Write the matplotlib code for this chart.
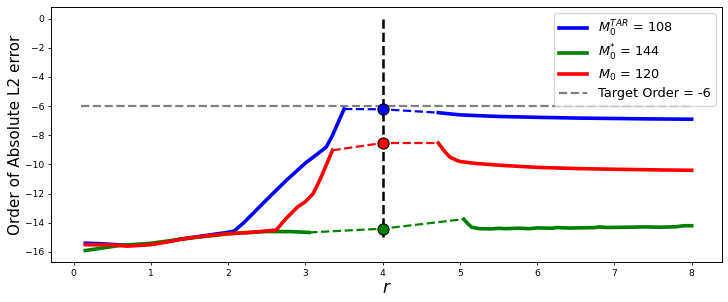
import matplotlib
matplotlib.use("Agg")
import matplotlib.pyplot as plt

# Blue: M0^TAR = 108
blue_x1 = [0.15, 0.3, 0.5, 0.7, 1.0, 1.2, 1.4, 1.6, 1.8, 2.0, 2.08, 2.2, 2.5, 2.75, 3.0, 3.15, 3.27, 3.35, 3.5]
blue_y1 = [-15.4, -15.42, -15.48, -15.55, -15.45, -15.3, -15.1, -14.95, -14.8, -14.65, -14.55, -14.0, -12.4, -11.1, -9.9, -9.3, -8.8, -8.0, -6.2]
blue_xd = [3.5, 4.0, 4.72]
blue_yd = [-6.2, -6.22, -6.45]
blue_x2 = [4.72, 4.9, 5.0, 5.25, 5.5, 6.0, 6.5, 7.0, 7.5, 8.0]
blue_y2 = [-6.45, -6.55, -6.6, -6.66, -6.71, -6.77, -6.82, -6.85, -6.88, -6.9]

# Red: M0 = 120
red_x1 = [0.15, 0.5, 0.7, 1.0, 1.2, 1.4, 1.6, 1.8, 2.0, 2.3, 2.62, 2.75, 2.9, 3.0, 3.1, 3.2, 3.35]
red_y1 = [-15.5, -15.52, -15.6, -15.5, -15.32, -15.12, -14.97, -14.85, -14.75, -14.65, -14.5, -13.7, -12.9, -12.55, -12.0, -10.9, -9.03]
red_xd = [3.35, 4.0, 4.72]
red_yd = [-9.03, -8.53, -8.53]
red_x2 = [4.72, 4.8, 4.87, 4.95, 5.0, 5.2, 5.5, 6.0, 6.5, 7.0, 7.5, 8.0]
red_y2 = [-8.53, -9.1, -9.5, -9.7, -9.8, -9.93, -10.05, -10.2, -10.28, -10.33, -10.37, -10.4]

# Green: M0* = 144
green_x1 = [0.15, 0.6, 1.0, 1.5, 2.0, 2.5, 2.8, 3.05]
green_y1 = [-15.9, -15.55, -15.4, -15.05, -14.75, -14.6, -14.6, -14.66]
green_xd = [3.05, 4.0, 5.05]
green_yd = [-14.66, -14.4, -13.75]
green_x2 = [5.05, 5.1, 5.15, 5.25, 5.4, 5.5, 5.6, 5.75, 5.9, 6.0, 6.2, 6.25, 6.4, 6.6, 6.75, 6.8, 6.9, 7.2, 7.4, 7.6, 7.8, 7.9, 8.0]
green_y2 = [-13.75, -14.05, -14.3, -14.4, -14.42, -14.38, -14.4, -14.37, -14.4, -14.35, -14.37, -14.32, -14.36, -14.34, -14.33, -14.28, -14.32, -14.3, -14.28, -14.3, -14.27, -14.2, -14.2]

target_x = [0.1, 8.0]
target_y = [-6, -6]
r_star = 4.0
vline_y = [0, -15]
marker_y = [-6.22, -8.53, -14.4]
labels = [r'$M_0^{TAR}$ = 108', r'$M_0^{*}$ = 144', r'$M_0$ = 120', 'Target Order = -6']

fig = plt.figure(figsize=(7.28, 3.02), dpi=100)
ax = fig.add_axes([0.070, 0.132, 0.922, 0.845])
lw = 2.6
l1, = ax.plot(blue_x1, blue_y1, color='blue', lw=lw)
ax.plot(blue_xd, blue_yd, color='blue', lw=1.6, ls='--')
ax.plot(blue_x2, blue_y2, color='blue', lw=lw)
l2, = ax.plot(green_x1, green_y1, color='green', lw=lw)
ax.plot(green_xd, green_yd, color='green', lw=1.6, ls='--')
ax.plot(green_x2, green_y2, color='green', lw=lw)
l3, = ax.plot(red_x1, red_y1, color='red', lw=lw)
ax.plot(red_xd, red_yd, color='red', lw=1.6, ls='--')
ax.plot(red_x2, red_y2, color='red', lw=lw)
l4, = ax.plot(target_x, target_y, color='gray', lw=1.6, ls='--')
ax.plot([r_star, r_star], vline_y, color='black', lw=1.8, ls='--')
for yv, c in zip(marker_y, ['blue', 'red', 'green']):
    ax.plot([r_star], [yv], 'o', color=c, mec='black', mew=0.8, ms=8, zorder=5)

ax.set_xlabel('$r$', fontsize=12, labelpad=1)
ax.set_ylabel('Order of Absolute L2 error', fontsize=11, labelpad=1)
ax.tick_params(labelsize=6.6, length=2.5, width=0.6, pad=2.5)
for s in ax.spines.values():
    s.set_linewidth(0.7)
ax.set_xticks(range(0, 9))
ax.set_yticks(range(-16, 1, 2))
ax.legend([l1, l2, l3, l4], labels, loc='upper right', fontsize=9.3,
          handlelength=2.2, borderaxespad=0.5, labelspacing=0.35)
fig.savefig('out.png', dpi=100)
